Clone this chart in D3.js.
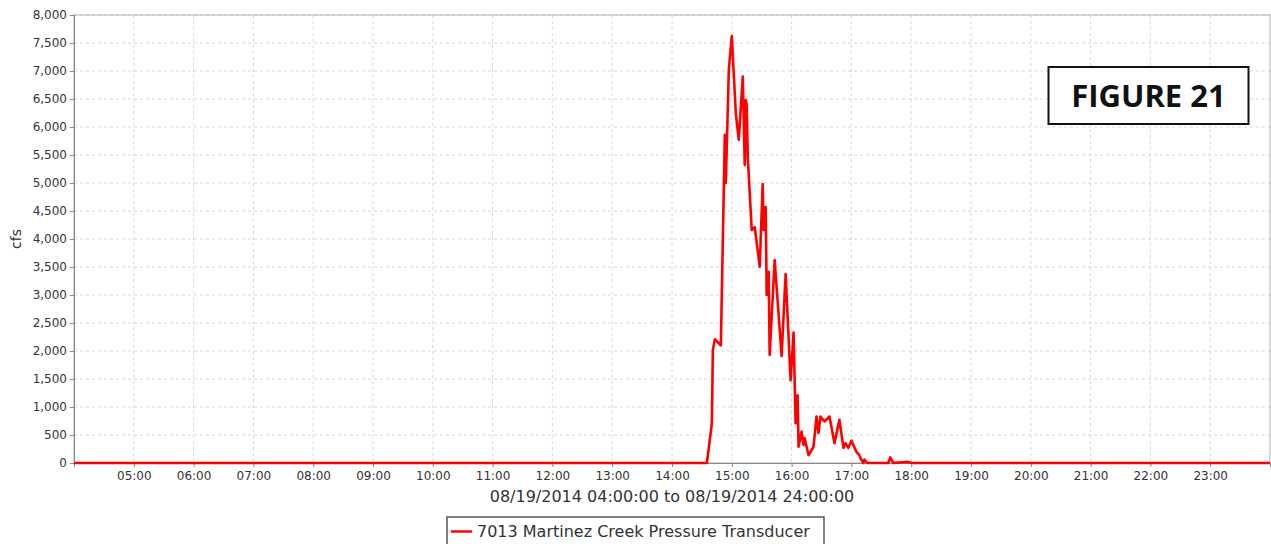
<!DOCTYPE html>
<html>
<head>
<meta charset="utf-8">
<script src="https://cdn.jsdelivr.net/npm/d3@7"></script>
<style>
  body { margin: 0; background: #fff; }
  svg { display: block; font-family: "DejaVu Sans", sans-serif; }
</style>
</head>
<body>
<div id="chart"></div>
<script>
// readings off the gauge, 08/19/2014
const times = ["04:00", "14:35", "14:40", "14:41", "14:43", "14:49", "14:53", "14:54", "14:57", "15:00",
  "15:04", "15:07", "15:11", "15:13", "15:14", "15:15", "15:16", "15:20", "15:23", "15:28",
  "15:31", "15:32", "15:34", "15:35", "15:37", "15:38", "15:43", "15:50", "15:54", "15:59",
  "16:02", "16:04", "16:06", "16:07", "16:10", "16:12", "16:13", "16:17", "16:22", "16:25",
  "16:27", "16:29", "16:33", "16:38", "16:43", "16:48", "16:52", "16:54", "16:57", "17:00",
  "17:05", "17:08", "17:09", "17:12", "17:13", "17:16", "17:37", "17:39", "17:42", "17:56",
  "18:01", "24:00"];
const flow = [0, 0, 710, 2020, 2210, 2100, 5860, 5000, 7020, 7625,
  6250, 5770, 6900, 5320, 6480, 6390, 5470, 4160, 4210, 3505,
  4980, 4160, 4570, 3000, 3415, 1930, 3625, 1910, 3375, 1480,
  2330, 710, 1210, 290, 560, 320, 445, 140, 290, 830,
  535, 830, 740, 830, 355, 770, 270, 355, 270, 400,
  200, 140, 90, 0, 60, 0, 0, 100, 0, 20,
  0, 0];
const hourTicks = ["05:00", "06:00", "07:00", "08:00", "09:00", "10:00", "11:00", "12:00", "13:00", "14:00",
  "15:00", "16:00", "17:00", "18:00", "19:00", "20:00", "21:00", "22:00", "23:00"];
const yTicks = d3.range(0, 8001, 500);
const seriesName = "7013 Martinez Creek Pressure Transducer";

function toDate(t) {
  const [h, m] = t.split(":").map(Number);
  return new Date(2014, 7, 19, h, m);
}
const data = times.map((t, i) => ({ t: toDate(t), v: flow[i] }));

const W = 1271, H = 544;
const margin = { top: 15, right: 1, bottom: 81, left: 74 };
const width = W - margin.left - margin.right;
const height = H - margin.top - margin.bottom;

const svg = d3.select("#chart").append("svg")
  .attr("width", W).attr("height", H);

const g = svg.append("g")
  .attr("transform", "translate(" + margin.left + "," + margin.top + ")");

const x = d3.scaleTime()
  .domain([toDate("04:00"), toDate("24:00")])
  .range([0, width]);
const y = d3.scaleLinear()
  .domain([0, 8000])
  .range([height, 0]);

// grid
g.append("g").selectAll("line")
  .data(hourTicks.map(toDate))
  .enter().append("line")
  .attr("x1", d => x(d)).attr("x2", d => x(d))
  .attr("y1", 0).attr("y2", height)
  .attr("stroke", "#d8d8d8").attr("stroke-dasharray", "3,3");
g.append("g").selectAll("line")
  .data(yTicks.slice(1))
  .enter().append("line")
  .attr("x1", 0).attr("x2", width)
  .attr("y1", d => y(d)).attr("y2", d => y(d))
  .attr("stroke", "#d8d8d8").attr("stroke-dasharray", "3,3");

// frame
g.append("rect")
  .attr("width", width).attr("height", height)
  .attr("fill", "none").attr("stroke", "#b0b0b0");

// axes
const yAxis = g.append("g")
  .call(d3.axisLeft(y).tickValues(yTicks).tickFormat(d3.format(",")).tickSize(4).tickPadding(3));
const xAxis = g.append("g")
  .attr("transform", "translate(0," + height + ")")
  .call(d3.axisBottom(x).tickValues(hourTicks.map(toDate)).tickFormat(d3.timeFormat("%H:%M")).tickSize(4).tickPadding(4));
[yAxis, xAxis].forEach(a => {
  a.selectAll("text").attr("font-size", 12).attr("font-family", "DejaVu Sans").attr("fill", "#333");
  a.selectAll("line").attr("stroke", "#888");
  a.select(".domain").attr("stroke", "#888");
});

// series
const line = d3.line()
  .x(d => x(d.t))
  .y(d => y(d.v));
g.append("path")
  .datum(data)
  .attr("d", line)
  .attr("fill", "none")
  .attr("stroke", "#ff0000")
  .attr("stroke-width", 2.6)
  .attr("stroke-linejoin", "round");

// axis titles
svg.append("text")
  .attr("transform", "translate(21," + (margin.top + height / 2) + ") rotate(-90)")
  .attr("text-anchor", "middle")
  .attr("font-size", 14)
  .attr("fill", "#333")
  .text("cfs");
svg.append("text")
  .attr("x", margin.left + width / 2)
  .attr("y", 502)
  .attr("text-anchor", "middle")
  .attr("font-size", 16)
  .attr("fill", "#333")
  .text("08/19/2014 04:00:00 to 08/19/2014 24:00:00");

// legend
const leg = svg.append("g").attr("transform", "translate(447,517)");
leg.append("rect")
  .attr("width", 377).attr("height", 32)
  .attr("fill", "#fff").attr("stroke", "#555").attr("stroke-width", 1.5);
leg.append("line")
  .attr("x1", 4).attr("x2", 25).attr("y1", 14.5).attr("y2", 14.5)
  .attr("stroke", "#ff0000").attr("stroke-width", 2.5);
leg.append("text")
  .attr("x", 30).attr("y", 20)
  .attr("font-size", 16)
  .attr("fill", "#333")
  .text(seriesName);

// figure tag
const tag = svg.append("g").attr("transform", "translate(1048.5,67)");
tag.append("rect")
  .attr("width", 200).attr("height", 57)
  .attr("fill", "#fff").attr("stroke", "#111").attr("stroke-width", 2);
tag.append("text")
  .attr("x", 100).attr("y", 39.5)
  .attr("text-anchor", "middle")
  .attr("font-family", "'Open Sans', sans-serif")
  .attr("font-weight", "bold")
  .attr("font-size", 31)
  .attr("fill", "#111")
  .text("FIGURE 21");
</script>
</body>
</html>
